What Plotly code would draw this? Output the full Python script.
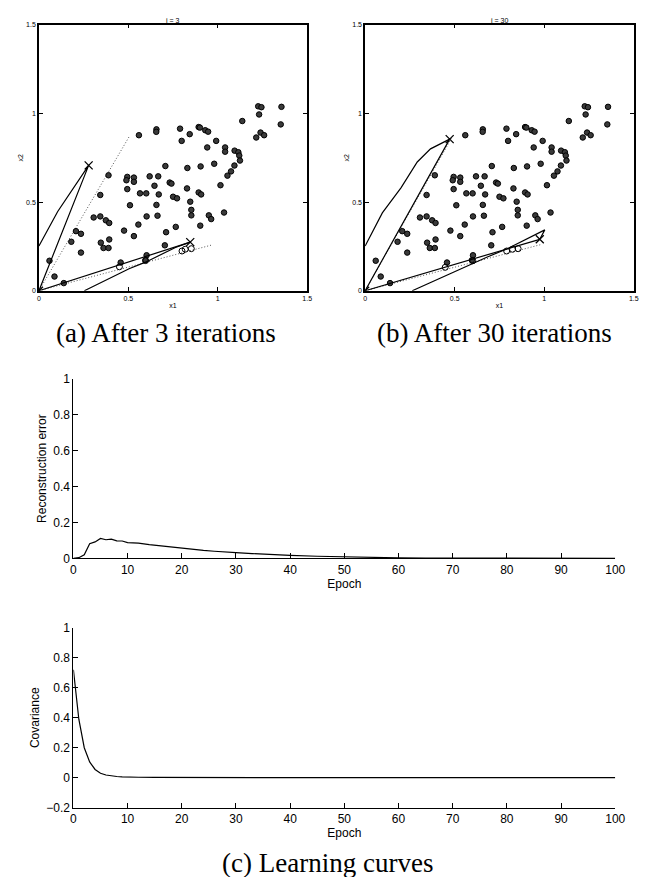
import plotly.graph_objects as go

# ---------------- data points (x1, x2) ----------------
pts_x = [1.356, 1.226, 1.244, 1.231, 1.352, 1.137, 1.239, 1.259, 1.215, 1.094, 1.115, 1.120, 1.124,
         1.093, 1.074, 1.054, 1.015, 1.035, 1.041, 1.041, 0.991, 0.941, 0.980, 0.893, 0.900, 0.930,
         0.946, 0.789, 0.798, 0.843, 0.657, 0.656, 0.559, 0.904, 0.830, 0.707, 0.893, 0.907, 0.828,
         0.846, 0.852, 0.852, 0.950, 0.963, 0.902, 0.731, 0.741, 0.750, 0.772, 0.765, 0.711, 0.704,
         0.619, 0.667, 0.646, 0.670, 0.657, 0.663, 0.600, 0.565, 0.602, 0.556, 0.531, 0.476, 0.509,
         0.494, 0.494, 0.489, 0.531, 0.531, 0.389, 0.343, 0.306, 0.343, 0.374, 0.393, 0.393, 0.346,
         0.361, 0.389, 0.207, 0.235, 0.181, 0.235, 0.059, 0.087, 0.139, 0.457, 0.602, 0.596]
pts_y = [1.037, 1.040, 1.035, 0.994, 0.938, 0.957, 0.892, 0.877, 0.864, 0.790, 0.781, 0.762, 0.734,
         0.706, 0.673, 0.649, 0.595, 0.441, 0.808, 0.784, 0.845, 0.808, 0.716, 0.923, 0.920, 0.905,
         0.897, 0.914, 0.845, 0.883, 0.910, 0.896, 0.877, 0.701, 0.692, 0.703, 0.554, 0.543, 0.577,
         0.502, 0.456, 0.425, 0.425, 0.404, 0.367, 0.610, 0.604, 0.530, 0.521, 0.360, 0.330, 0.256,
         0.645, 0.645, 0.592, 0.543, 0.484, 0.423, 0.549, 0.549, 0.419, 0.373, 0.308, 0.339, 0.482,
         0.573, 0.642, 0.623, 0.638, 0.614, 0.651, 0.540, 0.413, 0.419, 0.397, 0.382, 0.289, 0.271,
         0.241, 0.241, 0.336, 0.321, 0.276, 0.215, 0.169, 0.080, 0.043, 0.159, 0.200, 0.172]

# reconstructions visibly apart from their data points
rec_x = [0.800, 0.818, 0.852, 0.450, 0.596]
rec_y = [0.224, 0.234, 0.237, 0.135, 0.170]

# ---------------- panel (a) curves, i = 3 ----------------
a_up_x = [0, 0.105, 0.278, 0]
a_up_y = [0.252, 0.447, 0.707, 0]
a_lo1_x = [0, 0.846]
a_lo1_y = [0, 0.274]
a_lo2_x = [0.254, 0.504, 0.596, 0.763, 0.846]
a_lo2_y = [0, 0.124, 0.161, 0.244, 0.274]
a_dot1_x = [0, 0.504]
a_dot1_y = [0, 0.868]
a_dot2_x = [0, 0.967]
a_dot2_y = [0, 0.258]
a_cross_x = [0.278, 0.846, 0]
a_cross_y = [0.707, 0.274, 0]

# ---------------- panel (b) curves, i = 30 ----------------
b_up_x = [0, 0.096, 0.20, 0.291, 0.365, 0.392, 0.472, 0]
b_up_y = [0.252, 0.439, 0.58, 0.726, 0.800, 0.813, 0.855, 0]
b_lo1_x = [0, 0.975]
b_lo1_y = [0, 0.290]
b_lo2_x = [0.263, 0.531, 0.679, 0.790, 0.900, 1.003, 0.975]
b_lo2_y = [0, 0.124, 0.189, 0.235, 0.290, 0.343, 0.290]
b_dot1_x = [0, 0.485]
b_dot1_y = [0, 0.865]
b_dot2_x = [0, 0.980]
b_dot2_y = [0, 0.260]
b_cross_x = [0.472, 0.975, 0]
b_cross_y = [0.855, 0.290, 0]
b_rec_x = [0.790, 0.823, 0.854, 0.601, 0.447]
b_rec_y = [0.224, 0.234, 0.237, 0.169, 0.132]

# ---------------- learning curves ----------------
rec_epoch = [0, 1, 2, 3, 4, 5, 6, 7, 8, 9, 10, 12, 14, 16, 18, 20, 22, 24, 26, 28, 30, 33, 36,
             40, 45, 50, 55, 60, 65, 70, 75, 80, 85, 90, 95, 100]
rec_err = [0, 0.004, 0.02, 0.082, 0.092, 0.111, 0.104, 0.107, 0.098, 0.097, 0.088, 0.085, 0.077,
           0.070, 0.063, 0.055, 0.050, 0.045, 0.040, 0.035, 0.032, 0.027, 0.022, 0.017, 0.012,
           0.008, 0.005, 0.003, 0.002, 0.002, 0.0015, 0.001, 0.001, 0.001, 0.001, 0.001]
cov_epoch = [0, 1, 2, 3, 4, 5, 6, 7, 8, 9, 10, 12, 15, 20, 30, 40, 50, 60, 70, 80, 90, 100]
cov_val = [0.72, 0.39, 0.20, 0.105, 0.055, 0.030, 0.018, 0.011, 0.008, 0.006, 0.004, 0.003,
           0.002, 0.001, 0, 0, 0, 0, 0, 0, 0, 0]

scatter_ticks = [0, 0.5, 1, 1.5]
scatter_ticktext = ["0", "0.5", "1", "1.5"]
epoch_ticks = [0, 10, 20, 30, 40, 50, 60, 70, 80, 90, 100]

# page body has an 8px margin; factors compensate the observed scaling of the page
OFF = 8
SX = 0.986
AY, BY = -6.5, 1.01622
W, H = 641, 876
def px_x(p):
    return (p / SX - OFF) / W
def px_y(p):
    return 1 - (AY + BY * p - OFF) / H

fig = go.Figure()

def line(x, y, xa, ya, dash="solid", width=1.2, color="black"):
    fig.add_trace(go.Scatter(x=x, y=y, mode="lines", xaxis=xa, yaxis=ya,
                             line=dict(color=color, width=width, dash=dash),
                             showlegend=False, hoverinfo="skip"))

for xa, ya, d1, d2, up, lo1, lo2, cr, rc in [
    ("x", "y", (a_dot1_x, a_dot1_y), (a_dot2_x, a_dot2_y), (a_up_x, a_up_y),
     (a_lo1_x, a_lo1_y), (a_lo2_x, a_lo2_y), (a_cross_x, a_cross_y), (rec_x, rec_y)),
    ("x2", "y2", (b_dot1_x, b_dot1_y), (b_dot2_x, b_dot2_y), (b_up_x, b_up_y),
     (b_lo1_x, b_lo1_y), (b_lo2_x, b_lo2_y), (b_cross_x, b_cross_y), (b_rec_x, b_rec_y)),
]:
    line(d1[0], d1[1], xa, ya, dash="1px,2px", width=1, color="#555")
    line(d2[0], d2[1], xa, ya, dash="1px,2px", width=1, color="#555")
    fig.add_trace(go.Scatter(x=pts_x, y=pts_y, mode="markers", xaxis=xa, yaxis=ya,
                             marker=dict(symbol="circle", size=5.5, color="#3a3a3a",
                                         line=dict(color="black", width=1)),
                             showlegend=False, hoverinfo="skip"))
    fig.add_trace(go.Scatter(x=rc[0], y=rc[1], mode="markers", xaxis=xa, yaxis=ya,
                             marker=dict(symbol="circle-open", size=6, color="black",
                                         line=dict(width=1)),
                             showlegend=False, hoverinfo="skip"))
    line(up[0], up[1], xa, ya)
    line(lo1[0], lo1[1], xa, ya)
    line(lo2[0], lo2[1], xa, ya)
    fig.add_trace(go.Scatter(x=cr[0], y=cr[1], mode="markers", xaxis=xa, yaxis=ya,
                             marker=dict(symbol="x-thin-open", size=8, color="black",
                                         line=dict(color="black", width=1.3)),
                             showlegend=False, hoverinfo="skip"))

line(rec_epoch, rec_err, "x3", "y3", width=1.2)
line(cov_epoch, cov_val, "x4", "y4", width=1.2)

small = dict(family="Liberation Sans, Arial, sans-serif", size=7, color="black")
mid = dict(family="Liberation Sans, Arial, sans-serif", size=12, color="black")

def scatter_axis(dom, anchor, title):
    return dict(domain=dom, anchor=anchor, range=[0, 1.5], tickvals=scatter_ticks,
                ticktext=scatter_ticktext, ticks="inside", ticklen=4, tickwidth=1,
                tickcolor="black", mirror="ticks", showline=True, linecolor="black",
                linewidth=1.5, showgrid=False, zeroline=False, tickfont=small,
                title=dict(text=title, font=small, standoff=2), fixedrange=True)

curve_x = dict(range=[0, 100], tickvals=epoch_ticks, ticks="inside", ticklen=5,
               tickwidth=1, tickcolor="black", showline=True, linecolor="black",
               linewidth=1, showgrid=False, zeroline=False, tickfont=mid,
               title=dict(text="Epoch", font=mid, standoff=0))

fig.update_layout(
    width=W, height=H, margin=dict(l=0, r=0, t=0, b=0),
    paper_bgcolor="white", plot_bgcolor="white", showlegend=False,
    xaxis=scatter_axis([px_x(36), px_x(306)], "y", "x1"),
    yaxis=scatter_axis([px_y(290), px_y(24)], "x", "x2"),
    xaxis2=scatter_axis([px_x(364.3), px_x(634.7)], "y2", "x1"),
    yaxis2=scatter_axis([px_y(290), px_y(24)], "x2", "x2"),
    xaxis3=dict(curve_x, domain=[px_x(70.7), px_x(616)], anchor="y3"),
    yaxis3=dict(domain=[px_y(557.7), px_y(378)], anchor="x3", range=[0, 1],
                tickvals=[0, 0.2, 0.4, 0.6, 0.8, 1], ticks="inside", ticklen=5,
                tickcolor="black", showline=True, linecolor="black", linewidth=1,
                showgrid=False, zeroline=False, tickfont=mid,
                title=dict(text="Reconstruction error", font=mid, standoff=4)),
    xaxis4=dict(curve_x, domain=[px_x(70.7), px_x(616)], anchor="y4"),
    yaxis4=dict(domain=[px_y(807), px_y(627)], anchor="x4", range=[-0.2, 1],
                tickvals=[-0.2, 0, 0.2, 0.4, 0.6, 0.8, 1], ticks="inside", ticklen=5,
                tickcolor="black", showline=True, linecolor="black", linewidth=1,
                showgrid=False, zeroline=False, tickfont=mid,
                title=dict(text="Covariance", font=mid, standoff=4)),
)

serif = dict(family="Liberation Serif, Times New Roman, serif", size=27, color="black")
annots = [
    ("(a) After 3 iterations", 164, 332, serif),
    ("(b) After 30 iterations", 494, 332, serif),
    ("(c) Learning curves", 326.5, 862, serif),
]
for text, x, y, f in annots:
    fig.add_annotation(text=text, x=px_x(x), y=px_y(y), xref="paper", yref="paper",
                       showarrow=False, font=f, xanchor="center", yanchor="middle")
# small panel titles sit right at the top edge of the figure, above the frames
for text, x in [("i = 3", 171), ("i = 30", 499.5)]:
    fig.add_annotation(text=text, x=px_x(x), y=1, xref="paper", yref="paper",
                       showarrow=False, font=small, xanchor="center", yanchor="top")

fig.write_html("out.html")
